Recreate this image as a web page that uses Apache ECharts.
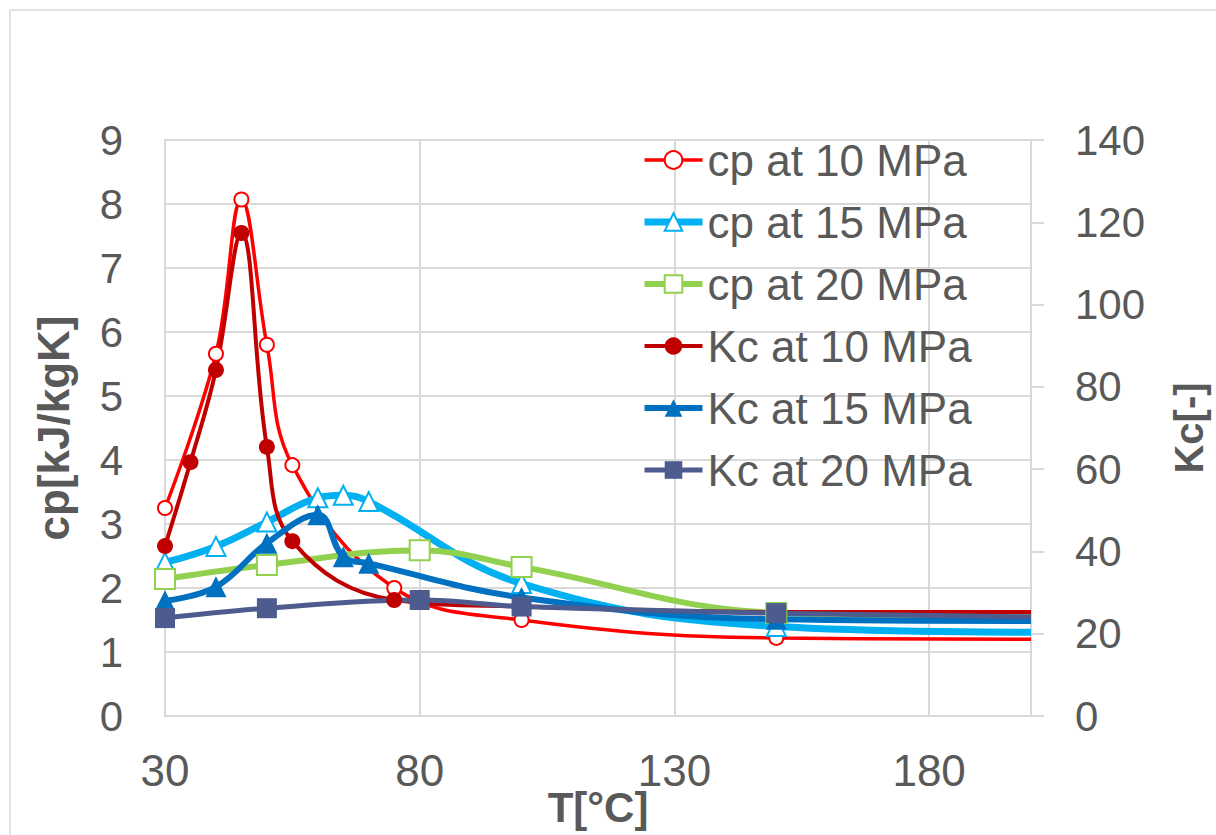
<!DOCTYPE html>
<html>
<head>
<meta charset="utf-8">
<script src="https://cdn.jsdelivr.net/npm/echarts@6/dist/echarts.min.js"></script>
<style>
  html, body { margin: 0; padding: 0; background: #ffffff; }
  #chart { width: 1216px; height: 835px; }
</style>
</head>
<body>
<div id="chart"></div>
<script>
// Temperature points [°C] and values for each series
const cp10T = [30, 40, 45, 50, 55, 75, 100, 150, 200];
const cp10  = [3.25, 5.66, 8.07, 5.80, 3.92, 2.00, 1.50, 1.22, 1.20];

const cp15T = [30, 40, 50, 60, 65, 70, 100, 150, 200];
const cp15  = [2.40, 2.65, 3.03, 3.41, 3.45, 3.35, 2.07, 1.40, 1.31];

const cp20T = [30, 50, 80, 100, 150, 200];
const cp20  = [2.14, 2.36, 2.59, 2.33, 1.61, 1.55];

const kc10T = [30, 35, 40, 45, 50, 55, 75, 100, 150, 200];
const kc10  = [41.3, 61.7, 84.1, 117.4, 65.4, 42.5, 28.2, 26.6, 25.3, 25.3];

const kc15T = [30, 40, 50, 60, 65, 70, 100, 150, 200];
const kc15  = [28.0, 31.4, 42.0, 48.9, 38.7, 37.1, 28.8, 23.5, 23.1];

const kc20T = [30, 50, 80, 100, 150, 200];
const kc20  = [23.8, 26.2, 28.2, 26.6, 25.0, 24.1];

const seriesNames = ['cp at 10 MPa', 'cp at 15 MPa', 'cp at 20 MPa',
                     'Kc at 10 MPa', 'Kc at 15 MPa', 'Kc at 20 MPa'];

const xTicks = { min: 30, max: 200, step: 50 };
const cpTicks = { min: 0, max: 9, step: 1 };
const kcTicks = { min: 0, max: 140, step: 20 };

const FONT = '"Liberation Sans", Arial, sans-serif';
const TEXT = '#595959';
const GRID = '#d9d9d9';

// Line colour, width and marker for each series
const styles = [
  { color: '#ff0000', width: 3.5, symbol: 'circle',   size: 14, hollow: true },
  { color: '#00b0f0', width: 7,   symbol: 'triangle', size: 19, hollow: true },
  { color: '#92d050', width: 6,   symbol: 'rect',     size: 20, hollow: true },
  { color: '#c00000', width: 4,   symbol: 'circle',   size: 16, hollow: false },
  { color: '#0070c0', width: 6,   symbol: 'triangle', size: 21, hollow: false },
  { color: '#4d5b8f', width: 5,   symbol: 'rect',     size: 20, hollow: false }
];

// Pair temperatures with values; the point at the axis end carries no marker
function pairs(ts, vs) {
  return ts.map((t, i) => t >= xTicks.max
    ? { value: [t, vs[i]], symbol: 'none' }
    : [t, vs[i]]);
}

function markerStyle(s) {
  return s.hollow
    ? { color: '#ffffff', borderColor: s.color, borderWidth: 2 }
    : { color: s.color, borderColor: s.color, borderWidth: 0 };
}

function lineSeries(idx, ts, vs, yIndex) {
  const s = styles[idx];
  return {
    name: seriesNames[idx],
    type: 'line',
    yAxisIndex: yIndex,
    smooth: 0.4,
    data: pairs(ts, vs),
    symbol: s.symbol,
    symbolSize: s.size,
    showAllSymbol: true,
    lineStyle: { color: s.color, width: s.width },
    itemStyle: markerStyle(s),
    emphasis: { disabled: true },
    z: 2
  };
}

const chart = echarts.init(document.getElementById('chart'), null, { renderer: 'svg' });

chart.setOption({
  backgroundColor: '#ffffff',
  animation: false,
  textStyle: { fontFamily: FONT },
  graphic: [{
    type: 'rect',
    shape: { x: 10, y: 10, width: 1300, height: 900 },
    style: { fill: 'none', stroke: GRID, lineWidth: 1.5 },
    silent: true
  }],
  grid: { left: 165, top: 140, width: 866, height: 576, outerBoundsMode: 'none', containLabel: false },
  legend: {
    orient: 'vertical',
    left: 636,
    top: 131,
    itemWidth: 58,
    itemHeight: 22,
    itemGap: 14,
    data: seriesNames.map((n, i) => ({
      name: n,
      lineStyle: { width: styles[i].width, color: styles[i].color }
    })),
    textStyle: { fontFamily: FONT, fontSize: 44, color: TEXT, lineHeight: 48, padding: [0, 0, 0, 0] }
  },
  xAxis: {
    type: 'value',
    min: xTicks.min,
    max: xTicks.max,
    interval: xTicks.step,
    name: 'T[°C]',
    nameLocation: 'middle',
    nameGap: 70,
    nameMoveOverlap: false,
    nameTextStyle: { fontFamily: FONT, fontSize: 42, fontWeight: 'bold', color: TEXT },
    axisLine: { show: true, lineStyle: { color: GRID, width: 2 } },
    axisTick: { show: false },
    axisLabel: { fontFamily: FONT, fontSize: 44, color: TEXT, margin: 32, showMaxLabel: false },
    splitLine: { show: true, lineStyle: { color: GRID, width: 2 } }
  },
  yAxis: [{
    type: 'value',
    position: 'left',
    min: cpTicks.min,
    max: cpTicks.max,
    interval: cpTicks.step,
    name: 'cp[kJ/kgK]',
    nameLocation: 'middle',
    nameGap: 90,
    nameMoveOverlap: false,
    nameTextStyle: { fontFamily: FONT, fontSize: 44, fontWeight: 'bold', color: TEXT },
    axisLine: { show: true, lineStyle: { color: GRID, width: 2 } },
    axisTick: { show: false },
    axisLabel: { fontFamily: FONT, fontSize: 42, color: TEXT, margin: 42 },
    splitLine: { show: true, lineStyle: { color: GRID, width: 2 } }
  }, {
    type: 'value',
    position: 'right',
    min: kcTicks.min,
    max: kcTicks.max,
    interval: kcTicks.step,
    name: 'Kc[-]',
    nameLocation: 'middle',
    nameGap: 138,
    nameMoveOverlap: false,
    nameTextStyle: { fontFamily: FONT, fontSize: 40, fontWeight: 'bold', color: TEXT },
    axisLine: { show: true, lineStyle: { color: GRID, width: 2 } },
    axisTick: { show: true, inside: false, length: 13, lineStyle: { color: GRID, width: 2 } },
    axisLabel: { fontFamily: FONT, fontSize: 42, color: TEXT, margin: 44 },
    splitLine: { show: false }
  }],
  series: [
    lineSeries(0, cp10T, cp10, 0),
    lineSeries(1, cp15T, cp15, 0),
    lineSeries(2, cp20T, cp20, 0),
    lineSeries(3, kc10T, kc10, 1),
    lineSeries(4, kc15T, kc15, 1),
    lineSeries(5, kc20T, kc20, 1)
  ]
});
</script>
</body>
</html>
